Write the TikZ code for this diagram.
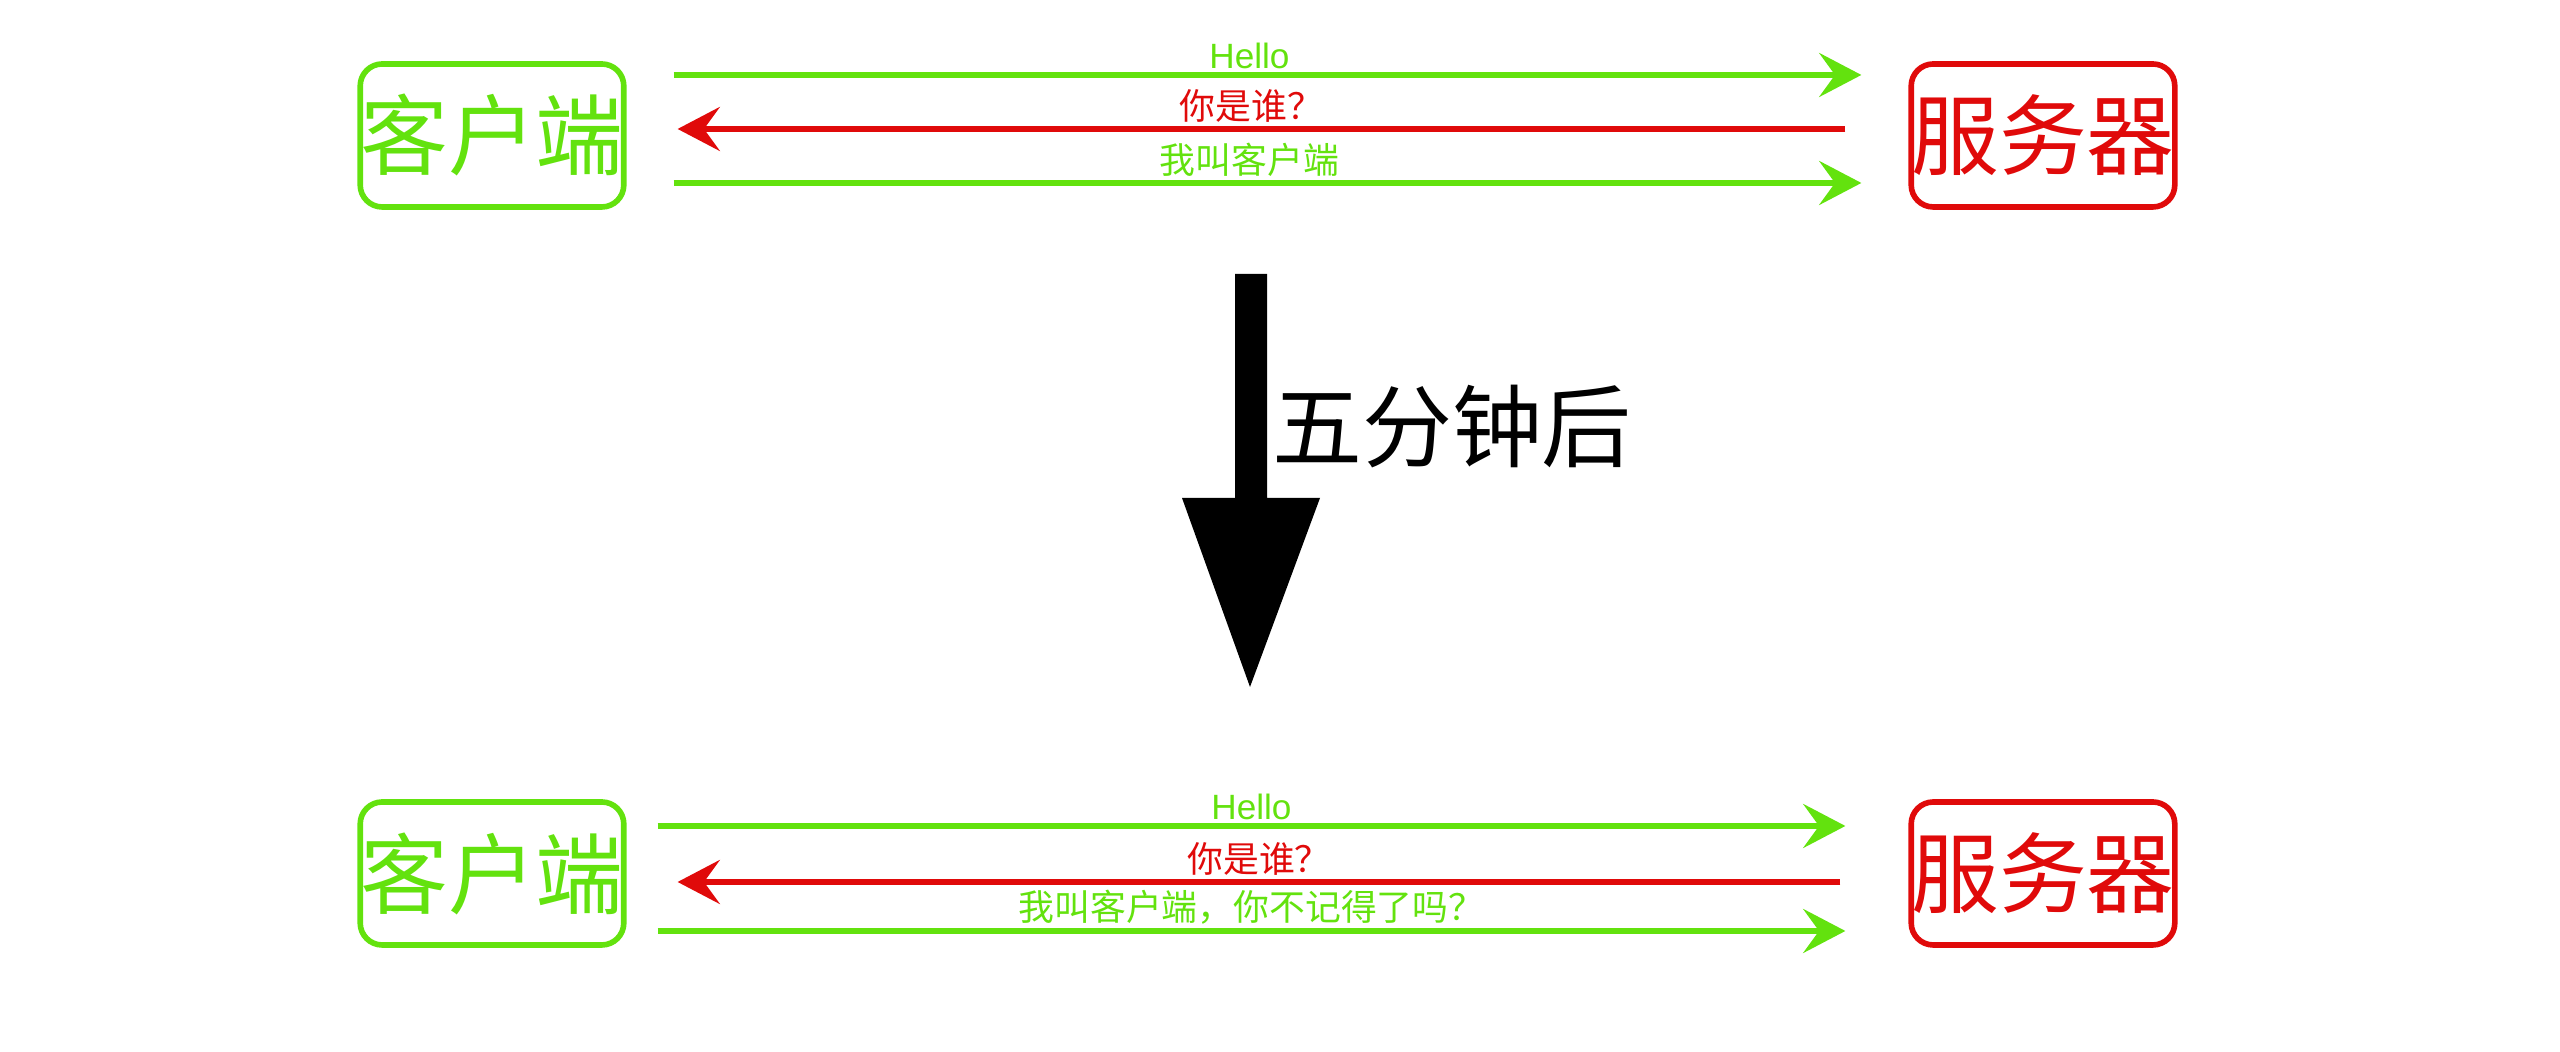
\documentclass[tikz,border=0pt]{standalone}
\usepackage{fontspec}
\newfontfamily\cjk{Noto Sans CJK SC}
\newfontfamily\lsans{Liberation Sans}
\usetikzlibrary{arrows.meta}
\definecolor{cgreen}{RGB}{99,226,14}
\definecolor{sred}{RGB}{224,10,10}
\tikzset{
	peer/.style={draw,rounded corners=2.2mm,line width=1.6pt,minimum width=2.6cm,minimum height=1.43cm,inner sep=0pt,font=\cjk\fontsize{25}{25}\selectfont},
	msg/.style={line width=1.7pt,-{Stealth[length=12pt,width=12.5pt,inset=4.5pt]}},
	lbl/.style={above,inner sep=1pt,font=\cjk\fontsize{10.2}{10.2}\selectfont},
	hlbl/.style={above,inner sep=1pt,font=\lsans\fontsize{10}{10}\selectfont}
}
\begin{document}
\begin{tikzpicture}
		\useasboundingbox (0,0) rectangle (25.6,10.52);
		% before
		\node[peer,draw=cgreen,text=cgreen] (c1) at (4.92,9.165) {客户端};
		\node[peer,draw=sred,text=sred] (s1) at (20.43,9.165) {服务器};
		\draw[msg,cgreen] ([xshift=4.7mm,yshift=6.05mm]c1.east) -- node[hlbl,xshift=-1.8mm]{Hello} ([xshift=-4.7mm,yshift=6.05mm]s1.west);
		\draw[msg,sred] ([xshift=-6.3mm,yshift=0.65mm]s1.west) -- node[lbl,xshift=-1mm]{你是谁？} ([xshift=5.1mm,yshift=0.65mm]c1.east);
		\draw[msg,cgreen] ([xshift=4.7mm,yshift=-4.75mm]c1.east) -- node[lbl,xshift=-1.8mm]{我叫客户端} ([xshift=-4.7mm,yshift=-4.75mm]s1.west);
		% five minutes later
		\fill[black] (12.35,7.78) -- (12.67,7.78) -- (12.67,5.54) -- (13.20,5.54)
			-- (12.50,3.65) -- (11.82,5.54) -- (12.35,5.54) -- cycle;
		\node[font=\cjk\fontsize{25.6}{25.6}\selectfont] (later) at (14.52,6.25) {五分钟后};
		% after
		\node[peer,draw=cgreen,text=cgreen] (c2) at (4.92,1.785) {客户端};
		\node[peer,draw=sred,text=sred] (s2) at (20.43,1.785) {服务器};
		\draw[msg,cgreen] ([xshift=3.1mm,yshift=4.75mm]c2.east) -- node[hlbl]{Hello} ([xshift=-6.3mm,yshift=4.75mm]s2.west);
		\draw[msg,sred] ([xshift=-6.8mm,yshift=-0.85mm]s2.west) -- node[lbl]{你是谁？} ([xshift=5.1mm,yshift=-0.85mm]c2.east);
		\draw[msg,cgreen] ([xshift=3.1mm,yshift=-5.75mm]c2.east) -- node[lbl]{我叫客户端，你不记得了吗？} ([xshift=-6.3mm,yshift=-5.75mm]s2.west);
	\end{tikzpicture}
\end{document}
